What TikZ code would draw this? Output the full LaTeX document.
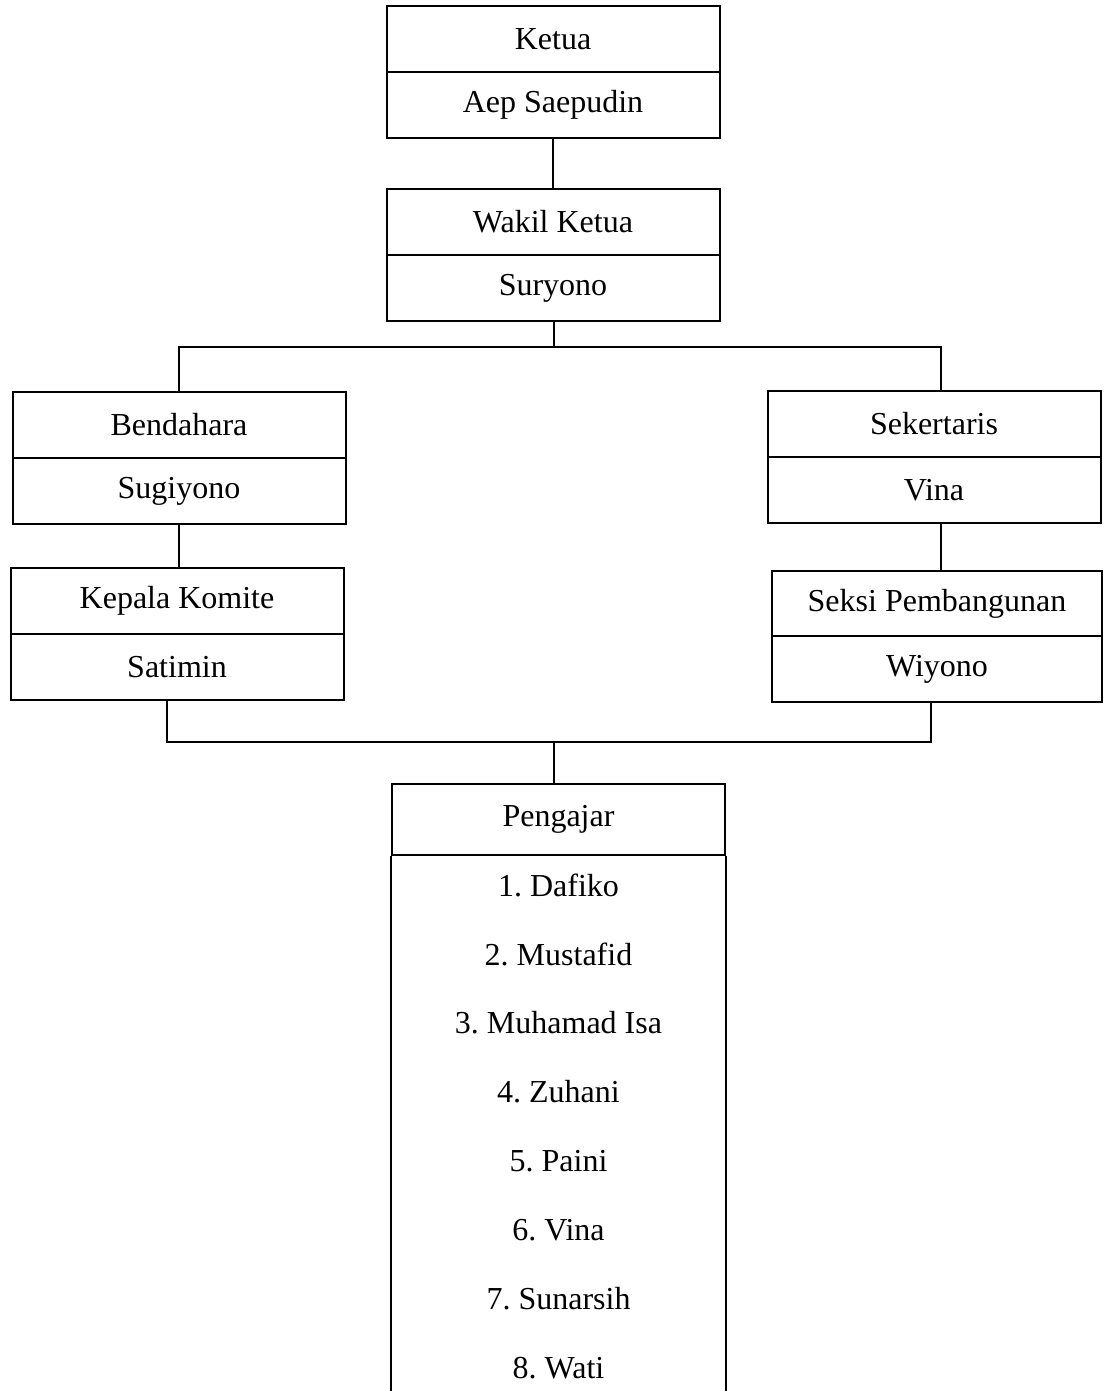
\documentclass[tikz,border=0pt]{standalone}
\usepackage{fontspec}
\setmainfont{Liberation Serif}
\usepackage{tikz}
\frenchspacing
\pgfdeclarelayer{edgelayer}
\pgfdeclarelayer{nodelayer}
\pgfsetlayers{edgelayer,nodelayer,main}
\tikzstyle{kotak}=[rectangle, draw=black, line width=1pt, inner sep=0pt, minimum width=166.5pt, minimum height=33pt, font=\fontsize{16}{19}\selectfont]
\tikzstyle{nama}=[inner sep=0pt, font=\fontsize{16}{19}\selectfont]
\tikzstyle{garis}=[draw=black, line width=0.8pt]
\tikzstyle{sisi}=[draw=black, line width=1pt]

\begin{document}
\begin{tikzpicture}[x=0.5pt, y=-0.5pt]
						\useasboundingbox (0,0) rectangle (1104,1391);
						\begin{pgfonlayer}{nodelayer}
							\node [style=kotak] (ketua) at (553, 39) {Ketua};
							\node [style=kotak] (ketuaN) at (553, 105) {Aep Saepudin};
							\node [style=kotak] (wakil) at (553, 222) {Wakil Ketua};
							\node [style=kotak] (wakilN) at (553, 288) {Suryono};
							\node [style=kotak] (bendahara) at (179, 425) {Bendahara};
							\node [style=kotak] (bendaharaN) at (179, 491) {Sugiyono};
							\node [style=kotak] (kepala) at (177, 601) {Kepala Komite};
							\node [style=kotak] (kepalaN) at (177, 667) {Satimin};
							\node [style=kotak] (sekertaris) at (934, 424) {Sekertaris};
							\node [style=kotak] (sekertarisN) at (934, 490) {Vina};
							\node [style=kotak, minimum width=165pt, minimum height=32.5pt] (seksi) at (937, 603.5) {Seksi Pembangunan};
							\node [style=kotak, minimum width=165pt] (seksiN) at (937, 669) {Wiyono};
							\node [style=kotak, minimum height=35.5pt] (pengajar) at (558.5, 819.5) {Pengajar};
							\foreach \guru [count=\i] in {Dafiko, Mustafid, Muhamad Isa, Zuhani, Paini, Vina, Sunarsih, Wati}
								\node [style=nama] (guru\i) at (558.5, 816+69*\i) {\i. \guru};
						\end{pgfonlayer}
						\begin{pgfonlayer}{edgelayer}
							\coordinate (cabang) at (554, 347);
							\coordinate (gabung) at (554, 742);
							\coordinate (dasar) at (558.5, 1391);
							\draw [style=garis] (ketuaN.south) to (wakil.north);
							\draw [style=garis] (wakilN.south -| cabang) to (cabang);
							\draw [style=garis] (bendahara.north) |- (cabang) -| ([xshift=3.5pt]sekertaris.north);
							\draw [style=garis] (bendaharaN.south) to (bendaharaN.south |- kepala.north);
							\draw [style=garis] ([xshift=3.5pt]sekertarisN.south) to ([xshift=2pt]seksi.north);
							\draw [style=garis] ([xshift=-5pt]kepalaN.south) |- (gabung) -| ([xshift=-3pt]seksiN.south);
							\draw [style=garis] (gabung) to (gabung |- pengajar.north);
							\draw [style=sisi] (pengajar.south west) to (pengajar.south west |- dasar);
							\draw [style=sisi] (pengajar.south east) to (pengajar.south east |- dasar);
						\end{pgfonlayer}
					\end{tikzpicture}
\end{document}
